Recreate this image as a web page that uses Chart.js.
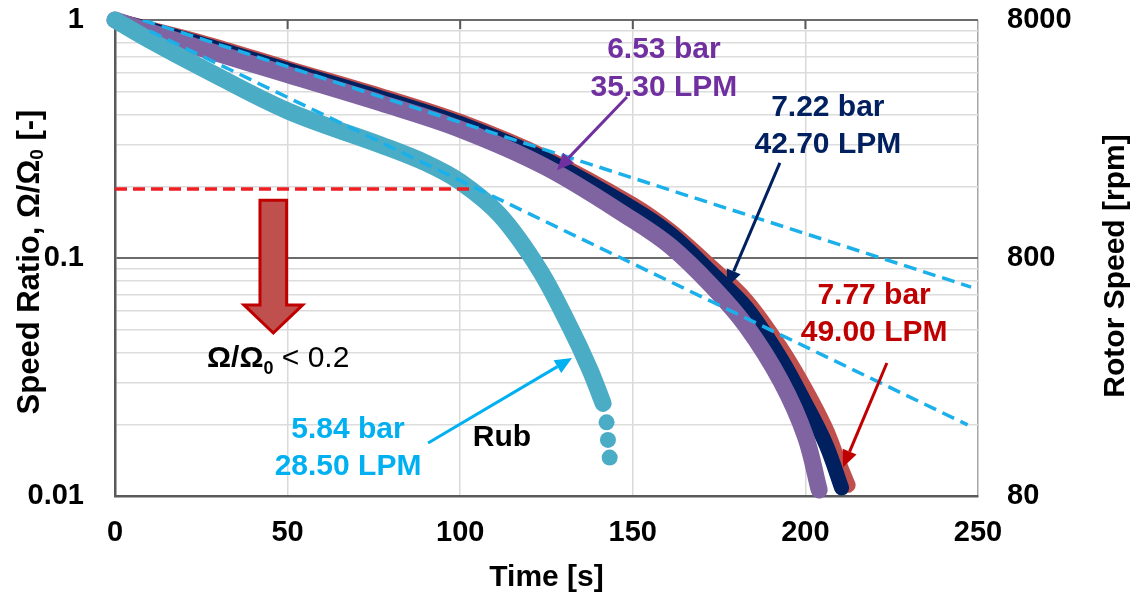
<!DOCTYPE html>
<html>
<head>
<meta charset="utf-8">
<script src="https://cdn.jsdelivr.net/npm/chart.js@4/dist/chart.umd.min.js"></script>
<style>
  html, body { margin: 0; padding: 0; background: #fff; }
  #wrap { width: 1136px; height: 600px; position: relative; }
</style>
</head>
<body>
<div id="wrap"><canvas id="myChart"></canvas></div>
<script>
// values (time in s, speed ratio)
const redTime = [0, 25, 50, 77, 100, 125, 150, 161, 173, 183, 193, 200, 206, 210, 212.4];
const redRatio = [1, 0.807, 0.628, 0.481, 0.375, 0.264, 0.168, 0.13, 0.0912, 0.0661, 0.0417, 0.0282, 0.0191, 0.0135, 0.0111];

const navyTime = [0, 25, 50, 77, 100, 125, 150, 161, 173, 183, 193, 200, 206, 210.5];
const navyRatio = [1, 0.794, 0.617, 0.471, 0.367, 0.258, 0.162, 0.126, 0.0861, 0.0617, 0.0376, 0.0245, 0.0164, 0.0108];

const purpleTime = [0, 10, 25, 50, 77, 100, 125, 150, 161, 173, 183, 193, 200, 204];
const purpleRatio = [1, 0.891, 0.759, 0.589, 0.448, 0.3475, 0.24, 0.1445, 0.1117, 0.0759, 0.0514, 0.0302, 0.0178, 0.0106];

const cyanTime = [0, 10, 25, 50, 77, 90, 100, 111.5, 123, 131.8, 137.6, 141.4];
const cyanRatio = [1, 0.824, 0.631, 0.415, 0.2985, 0.251, 0.209, 0.1514, 0.0891, 0.0513, 0.0339, 0.0245];
const cyanTailTime = [142.4, 142.8, 143.3];
const cyanTailRatio = [0.0204, 0.0172, 0.0145];

const upperFitTime = [8, 248];
const upperFitRatio = [1, 0.0755];
const lowerFitTime = [10, 247];
const lowerFitRatio = [0.9, 0.0199];
const thresholdTime = [0, 103];
const thresholdRatio = [0.195, 0.195];

const xTickValues = [0, 50, 100, 150, 200, 250];
const yGridValues = [0.01, 0.02, 0.03, 0.04, 0.05, 0.06, 0.07, 0.08, 0.09,
  0.1, 0.2, 0.3, 0.4, 0.5, 0.6, 0.7, 0.8, 0.9, 1];
const yLabelValues = [0.01, 0.1, 1];
const rpmTickValues = [80, 800, 8000];

const FONT = "'Liberation Sans', Arial, sans-serif";
const toPoints = (xs, ys) => xs.map((x, i) => ({ x: x, y: ys[i] }));

function band(data, color, width, order) {
  return {
    data: data, showLine: true, borderColor: color, backgroundColor: color,
    borderWidth: width, pointRadius: 0, borderCapStyle: "round", borderJoinStyle: "round",
    tension: 0.35, clip: false, order: order,
  };
}
function dashed(data, color, dash, order) {
  return {
    data: data, showLine: true, borderColor: color, borderWidth: 3.5, borderDash: dash,
    pointRadius: 0, order: order,
  };
}

// text and arrows placed in data units
const labels = [
  { lines: ["6.53 bar", "35.30 LPM"], x: 159, y: [0.748, 0.518], color: "#7030a0" },
  { lines: ["7.22 bar", "42.70 LPM"], x: 206.5, y: [0.43, 0.3], color: "#002060" },
  { lines: ["7.77 bar", "49.00 LPM"], x: 219.9, y: [0.0692, 0.0484], color: "#c00000" },
  { lines: ["5.84 bar", "28.50 LPM"], x: 67.5, y: [0.0189, 0.01324], color: "#00b0f0" },
  { lines: ["Rub"], x: 112.1, y: [0.01753], color: "#000000" },
];
const arrows = [
  { from: [148.3, 0.475], to: [128.0, 0.234], color: "#7030a0" },
  { from: [192.6, 0.251], to: [177.3, 0.0755], color: "#002060" },
  { from: [223.6, 0.0362], to: [210.9, 0.0132], color: "#c00000" },
  { from: [90.7, 0.0167], to: [132.4, 0.038], color: "#00b0f0" },
];

function drawArrow(ctx, x1, y1, x2, y2, color) {
  const a = Math.atan2(y2 - y1, x2 - x1);
  const hl = 17, hw = 7.5;
  const bx = x2 - hl * Math.cos(a), by = y2 - hl * Math.sin(a);
  ctx.strokeStyle = color;
  ctx.lineWidth = 3;
  ctx.beginPath();
  ctx.moveTo(x1, y1);
  ctx.lineTo(bx, by);
  ctx.stroke();
  ctx.fillStyle = color;
  ctx.beginPath();
  ctx.moveTo(x2, y2);
  ctx.lineTo(bx + hw * Math.sin(a), by - hw * Math.cos(a));
  ctx.lineTo(bx - hw * Math.sin(a), by + hw * Math.cos(a));
  ctx.closePath();
  ctx.fill();
}

// draws a run of [text, font, dy] pieces centred on (0,0) of the current frame
function drawPieces(ctx, pieces) {
  let total = 0;
  pieces.forEach((p) => { ctx.font = p[1]; total += ctx.measureText(p[0]).width; });
  let x = -total / 2;
  pieces.forEach((p) => {
    ctx.font = p[1];
    ctx.fillText(p[0], x, p[2]);
    x += ctx.measureText(p[0]).width;
  });
}

const annotate = {
  id: "annotate",
  afterDatasetsDraw(chart) {
    const ctx = chart.ctx;
    const xs = chart.scales.x, ys = chart.scales.y;
    const area = chart.chartArea;
    ctx.save();

    // small ticks along the top edge
    ctx.strokeStyle = "#595959";
    ctx.lineWidth = 2;
    xTickValues.slice(1, -1).forEach((v) => {
      const px = xs.getPixelForValue(v);
      ctx.beginPath();
      ctx.moveTo(px, area.top);
      ctx.lineTo(px, area.top + 9);
      ctx.stroke();
    });

    // block arrow below the threshold line
    const cx = xs.getPixelForValue(45.86);
    const sw = xs.getPixelForValue(45.86 + 3.86) - cx;
    const hw = xs.getPixelForValue(45.86 + 8.5) - cx;
    const top = ys.getPixelForValue(0.175);
    const neck = ys.getPixelForValue(0.0635);
    const tip = ys.getPixelForValue(0.0484);
    ctx.beginPath();
    ctx.moveTo(cx - sw, top);
    ctx.lineTo(cx + sw, top);
    ctx.lineTo(cx + sw, neck);
    ctx.lineTo(cx + hw, neck);
    ctx.lineTo(cx, tip);
    ctx.lineTo(cx - hw, neck);
    ctx.lineTo(cx - sw, neck);
    ctx.closePath();
    ctx.fillStyle = "#c0504d";
    ctx.fill();
    ctx.strokeStyle = "#c00000";
    ctx.lineWidth = 3;
    ctx.lineJoin = "miter";
    ctx.stroke();

    arrows.forEach((a) => {
      drawArrow(ctx, xs.getPixelForValue(a.from[0]), ys.getPixelForValue(a.from[1]),
        xs.getPixelForValue(a.to[0]), ys.getPixelForValue(a.to[1]), a.color);
    });

    ctx.textAlign = "center";
    ctx.textBaseline = "middle";
    ctx.font = "bold 30px " + FONT;
    labels.forEach((l) => {
      ctx.fillStyle = l.color;
      l.lines.forEach((t, i) => {
        ctx.fillText(t, xs.getPixelForValue(l.x), ys.getPixelForValue(l.y[i]));
      });
    });

    // threshold note
    ctx.textAlign = "left";
    ctx.textBaseline = "alphabetic";
    ctx.fillStyle = "#000";
    let tx = xs.getPixelForValue(26.65);
    const ty = ys.getPixelForValue(0.0348);
    ctx.font = "bold 30px " + FONT;
    ctx.fillText("Ω/Ω", tx, ty);
    tx += ctx.measureText("Ω/Ω").width;
    ctx.font = "bold 18px " + FONT;
    ctx.fillText("0", tx, ty + 7);
    tx += ctx.measureText("0").width;
    ctx.font = "30px " + FONT;
    ctx.fillText(" < 0.2", tx, ty);

    // axis titles on the two vertical axes
    ctx.textAlign = "left";
    ctx.textBaseline = "middle";
    ctx.save();
    ctx.translate(30, 262);
    ctx.rotate(-Math.PI / 2);
    drawPieces(ctx, [
      ["Speed Ratio, Ω/Ω", "bold 31px " + FONT, 0],
      ["0", "bold 19px " + FONT, 8],
      [" [-]", "bold 31px " + FONT, 0],
    ]);
    ctx.restore();
    ctx.save();
    ctx.translate(1116, 266);
    ctx.rotate(-Math.PI / 2);
    drawPieces(ctx, [["Rotor Speed [rpm]", "bold 30px " + FONT, 0]]);
    ctx.restore();

    ctx.restore();
  },
};

const noPadV = (w) => (scale) => { scale.width = w; scale.paddingTop = 0; scale.paddingBottom = 0; };

new Chart(document.getElementById("myChart"), {
  type: "scatter",
  data: {
    datasets: [
      dashed(toPoints(upperFitTime, upperFitRatio), "#1cb0ea", [13, 7], 0),
      dashed(toPoints(lowerFitTime, lowerFitRatio), "#1cb0ea", [13, 7], 0),
      dashed(toPoints(thresholdTime, thresholdRatio), "#f01e23", [12, 6], 0),
      band(toPoints(cyanTime, cyanRatio), "#4bacc6", 17, 1),
      {
        data: toPoints(cyanTailTime, cyanTailRatio), showLine: false,
        pointRadius: 8, pointBackgroundColor: "#4bacc6", pointBorderWidth: 0, clip: false, order: 1,
      },
      band(toPoints(purpleTime, purpleRatio), "#8064a2", 17, 2),
      band(toPoints(navyTime, navyRatio), "#002060", 15, 3),
      band(toPoints(redTime, redRatio), "#c0504d", 15, 4),
    ],
  },
  options: {
    responsive: true,
    maintainAspectRatio: false,
    animation: false,
    layout: { padding: { top: 20, left: 0, right: 0, bottom: 0 } },
    plugins: {
      legend: { display: false },
      tooltip: { enabled: false },
    },
    scales: {
      x: {
        type: "linear",
        min: 0,
        max: 250,
        afterBuildTicks: (scale) => { scale.ticks = xTickValues.map((v) => ({ value: v })); },
        afterFit: (scale) => { scale.height = 104; scale.paddingLeft = 0; scale.paddingRight = 0; },
        grid: {
          drawTicks: false,
          color: (c) => (c.tick && c.tick.value === 250 ? "#a6a6a6" : "#d9d9d9"),
          lineWidth: 1.5,
        },
        border: { display: true, color: "#595959", width: 2.5 },
        ticks: {
          padding: 20,
          color: "#000",
          font: { family: FONT, size: 29, weight: "bold" },
        },
        title: {
          display: true,
          text: "Time [s]",
          color: "#000",
          padding: { top: 0, bottom: 4 },
          font: { family: FONT, size: 30, weight: "bold" },
        },
      },
      y: {
        type: "logarithmic",
        position: "left",
        min: 0.01,
        max: 1,
        afterBuildTicks: (scale) => { scale.ticks = yGridValues.map((v) => ({ value: v })); },
        afterFit: noPadV(115),
        grid: {
          drawTicks: false,
          color: (c) => (c.tick && yLabelValues.includes(c.tick.value) ? "#6b6b6b" : "#dcdcdc"),
          lineWidth: (c) => (c.tick && yLabelValues.includes(c.tick.value) ? 2 : 1.5),
        },
        border: { display: true, color: "#595959", width: 2.5 },
        ticks: {
          padding: 31,
          color: "#000",
          autoSkip: false,
          font: { family: FONT, size: 29, weight: "bold" },
          callback: (v) => (yLabelValues.includes(v) ? String(v) : ""),
        },
      },
      y2: {
        type: "logarithmic",
        position: "right",
        min: 80,
        max: 8000,
        afterBuildTicks: (scale) => { scale.ticks = rpmTickValues.map((v) => ({ value: v })); },
        afterFit: noPadV(158),
        grid: { display: false, drawTicks: false },
        border: { display: false },
        ticks: {
          padding: 29,
          color: "#000",
          autoSkip: false,
          font: { family: FONT, size: 29, weight: "bold" },
          callback: (v) => String(v),
        },
      },
    },
  },
  plugins: [annotate],
});
</script>
</body>
</html>
